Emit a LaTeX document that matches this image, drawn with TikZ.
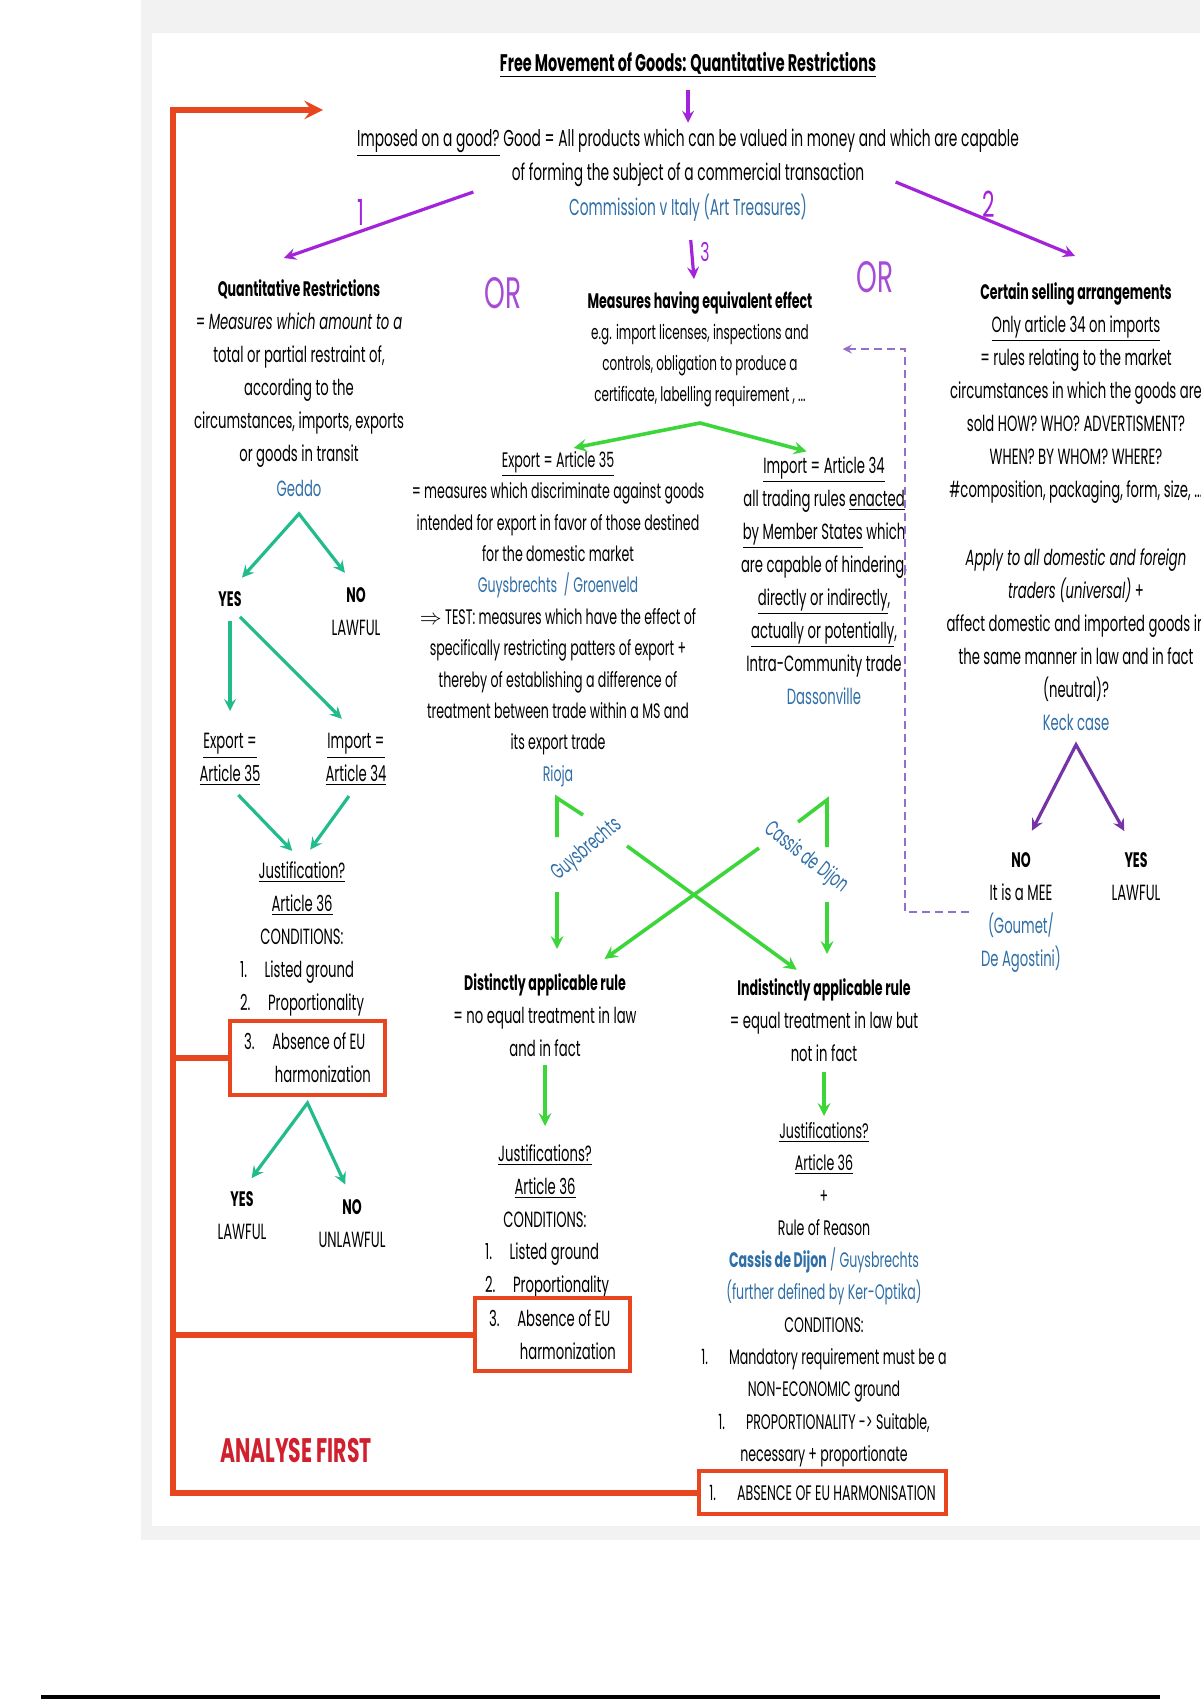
\documentclass[tikz,border=0pt]{standalone}
\usepackage{fontspec}
\setmainfont{Poppins}[FakeStretch=0.6]
\usetikzlibrary{positioning}
\definecolor{OrRed}{HTML}{E8461E}
\definecolor{ArrViolet}{HTML}{A323DB}
\definecolor{OrViolet}{HTML}{A74AD6}
\definecolor{TealArr}{HTML}{22BB8C}
\definecolor{LimeArr}{HTML}{3DD63A}
\definecolor{KeckViolet}{HTML}{7433A6}
\definecolor{DashViolet}{HTML}{9270C9}
\definecolor{CaseBlue}{HTML}{2F6FA8}
\definecolor{FirstRed}{HTML}{D0202E}
\definecolor{FrameGray}{HTML}{F2F2F2}
\newcommand\headtxt[1]{{\fontsize{10.5}{16.5}\selectfont\bfseries #1}}

\begin{document}
\begin{tikzpicture}[x=0.5pt,y=-0.5pt,>=stealth,node distance=2pt]
  \tikzstyle{txt}=[align=center,inner sep=0pt,font=\fontsize{11}{16.5}\selectfont]
  \tikzstyle{case}=[text=CaseBlue]
  \tikzstyle{redbox}=[draw=OrRed,line width=2pt,inner sep=0pt,align=left,
    font=\fontsize{11}{16.5}\selectfont]
  \tikzstyle{back}=[draw=OrRed,line width=3pt]
  \tikzstyle{topar}=[draw=ArrViolet,line width=1.6pt,->]
  \tikzstyle{tealar}=[draw=TealArr,line width=1.6pt]
  \tikzstyle{limear}=[draw=LimeArr,line width=1.8pt]
  \tikzstyle{keckar}=[draw=KeckViolet,line width=1.6pt]
  \tikzstyle{numlab}=[text=ArrViolet,inner sep=0pt,font=\fontsize{18}{18}\selectfont]
  \tikzstyle{orlab}=[text=OrViolet,inner sep=0pt,font=\fontsize{22}{22}\selectfont]

  % page and frame
  \useasboundingbox (0,0) rectangle (1200,1700);
  \fill[FrameGray] (141,0) rectangle (1200,1540);
  \fill[white] (152,33) rectangle (1200,1526);
  \draw[black,line width=2pt] (41,1697) -- (1160,1697);

  % top
  \node[txt,font=\fontsize{12}{16}\selectfont\bfseries] (title) at (688,65)
    {\underline{Free Movement of Goods: Quantitative Restrictions}};
  \node[txt,font=\fontsize{11.5}{16}\selectfont] (good1) at (688,143) {\underline{Imposed on a good?} Good = All products which can be valued in money and which are capable};
  \node[txt,font=\fontsize{11.5}{16}\selectfont] (good2) at (688,175) {of forming the subject of a commercial transaction};
  \node[txt,case,font=\fontsize{11.5}{16}\selectfont] (arttr) at (688,208) {Commission v Italy (Art Treasures)};
  \node[numlab] (n1) at (361,212) {1};
  \node[numlab] (n2) at (989,204) {2};
  \node[numlab,font=\fontsize{13}{13}\selectfont] (n3) at (705,252) {3};
  \node[orlab] (or1) at (503,293) {OR};
  \node[orlab] (or2) at (875,277) {OR};

  % quantitative restrictions
  \node[txt,anchor=north] (qr) at (299,279) {\headtxt{Quantitative Restrictions}\\
    = \textit{Measures which amount to a}\\total or partial restraint of,\\
    according to the\\circumstances, imports, exports\\or goods in transit\\[1pt]
    \textcolor{CaseBlue}{Geddo}};
  \node[txt] (yes1) at (230,599) {\headtxt{YES}};
  \node[txt,anchor=north] (no1) at (356,587) {\headtxt{NO}\\LAWFUL};
  \node[txt,anchor=north] (exp1) at (230,733) {\underline{Export =}\\\underline{Article 35}};
  \node[txt,anchor=north] (imp1) at (356,733) {\underline{Import =}\\\underline{Article 34}};
  \node[txt,anchor=north] (just1) at (302,861) {\underline{Justification?}\\\underline{Article 36}\\CONDITIONS:};
  \node[txt,align=left,anchor=north] (list1) at (302,960) {1.\hspace{.8em}Listed ground\\2.\hspace{.8em}Proportionality};
  \node[redbox,minimum width=77.5pt,minimum height=37pt] (harm1) at (307.5,1058)
    {3.\hspace{.8em}Absence of EU\\\hspace{1.4em}harmonization};
  \node[txt,anchor=north] (yes2) at (242,1191) {\headtxt{YES}\\LAWFUL};
  \node[txt,anchor=north] (no2) at (352,1199) {\headtxt{NO}\\UNLAWFUL};

  % measures having equivalent effect
  \node[txt,anchor=north,font=\fontsize{10}{15.5}\selectfont] (mee) at (700,291)
    {\headtxt{Measures having equivalent effect}\\e.g. import licenses, inspections and\\
    controls, obligation to produce a\\certificate, labelling requirement , ...};
  \node[txt,anchor=north,font=\fontsize{10.5}{15.7}\selectfont] (exp2) at (558,451)
    {\underline{Export = Article 35}\\= measures which discriminate against goods\\
    intended for export in favor of those destined\\for the domestic market\\
    \textcolor{CaseBlue}{Guysbrechts\ \ / Groenveld}\\
    $\Rightarrow$ TEST: measures which have the effect of\\
    specifically restricting patters of export +\\thereby of establishing a difference of\\
    treatment between trade within a MS and\\its export trade\\\textcolor{CaseBlue}{Rioja}};
  \node[txt,anchor=north] (imp2) at (824,456)
    {\underline{Import = Article 34}\\all trading rules \underline{enacted}\\
    \underline{by Member States} which\\are capable of hindering,\\
    \underline{directly or indirectly},\\\underline{actually or potentially},\\
    Intra-Community trade\\\textcolor{CaseBlue}{Dassonville}};
  \node[txt,case,rotate=40] (gbl) at (587,850) {Guysbrechts};
  \node[txt,case,rotate=-38] (cdl) at (806,858) {Cassis de Dijon};
  \node[txt,anchor=north] (dist) at (545,973)
    {\headtxt{Distinctly applicable rule}\\= no equal treatment in law\\and in fact};
  \node[txt,anchor=north] (indist) at (824,978)
    {\headtxt{Indistinctly applicable rule}\\= equal treatment in law but\\not in fact};
  \node[txt,anchor=north] (just2) at (545,1144) {\underline{Justifications?}\\\underline{Article 36}\\CONDITIONS:};
  \node[txt,align=left,anchor=north] (list2) at (547,1242) {1.\hspace{.8em}Listed ground\\2.\hspace{.8em}Proportionality};
  \node[redbox,minimum width=77.5pt,minimum height=36.5pt] (harm2) at (552.5,1334.5)
    {3.\hspace{.8em}Absence of EU\\\hspace{1.4em}harmonization};
  \node[txt,anchor=north,font=\fontsize{10.5}{16.15}\selectfont] (just3) at (824,1122)
    {\underline{Justifications?}\\\underline{Article 36}\\+\\Rule of Reason\\
    \textcolor{CaseBlue}{\textbf{Cassis de Dijon} / Guysbrechts}\\
    \textcolor{CaseBlue}{(further defined by Ker-Optika)}\\CONDITIONS:\\
    1.\hspace{1em}Mandatory requirement must be a\\NON-ECONOMIC ground\\
    1.\hspace{1em}PROPORTIONALITY -> Suitable,\\necessary + proportionate};
  \node[redbox,minimum width=123.5pt,minimum height=21.5pt,align=center,
    font=\fontsize{10.5}{14}\selectfont] (harm3) at (822.5,1492.5)
    {1.\hspace{1em}ABSENCE OF EU HARMONISATION};
  \node[text=FirstRed,font=\fontsize{17}{17}\selectfont\bfseries] (first) at (296,1450) {ANALYSE FIRST};

  % certain selling arrangements
  \node[txt,anchor=north] (csa) at (1076,282) {\headtxt{Certain selling arrangements}\\
    \underline{Only article 34 on imports}\\= rules relating to the market\\
    circumstances in which the goods are\\sold HOW? WHO? ADVERTISMENT?\\
    WHEN? BY WHOM? WHERE?\\\#composition, packaging, form, size, ...};
  \node[txt,anchor=north] (apply) at (1076,548) {\textit{Apply to all domestic and foreign}\\
    \textit{traders (universal)} +\\affect domestic and imported goods in\\
    the same manner in law and in fact\\(neutral)?\\\textcolor{CaseBlue}{Keck case}};
  \node[txt,anchor=north] (no3) at (1021,852) {\headtxt{NO}\\It is a MEE\\
    \textcolor{CaseBlue}{(Goumet/}\\\textcolor{CaseBlue}{De Agostini)}};
  \node[txt,anchor=north] (yes3) at (1136,852) {\headtxt{YES}\\LAWFUL};

  % purple arrows from the top
  \draw[topar,shorten <=6pt,shorten >=3pt] (title) -- (good1);
  \draw[topar] ([shift={(-38,17)}]good2.west) -- ([shift={(-15,-21)}]qr.north);
  \draw[topar] ([shift={(31,7)}]good2.east) -- ([shift={(-1,-26)}]csa.north);
  \draw[topar,shorten <=9pt,shorten >=6pt] (arttr) -- (mee);

  % teal arrows, left column
  \draw[tealar,<->,shorten <=9pt,shorten >=9pt] (yes1.north) -- ([yshift=-8.5pt]qr.south) -- (no1.north);
  \draw[tealar,->,shorten <=7pt,shorten >=11pt] (yes1.south) -- (exp1.north);
  \draw[tealar,->,shorten <=7pt,shorten >=10pt] (yes1.south) -- (imp1.north);
  \draw[tealar,->,shorten <=6pt,shorten >=7pt] (exp1.south) -- (just1.north);
  \draw[tealar,->,shorten <=6pt,shorten >=7pt] (imp1.south) -- (just1.north);
  \draw[tealar,<->,shorten <=8pt,shorten >=8pt] (yes2.north) -- ([yshift=-3pt]harm1.south) -- (no2.north);

  % green arrows, middle
  \draw[limear,<->,shorten <=8pt,shorten >=9pt] (exp2.north) -- ([yshift=-8pt]mee.south) -- (imp2.north);
  \coordinate (gh1) at (583,815);
  \coordinate (gh2) at (557,798);
  \coordinate (gh3) at (557,837);
  \coordinate (gh4) at (557,892);
  \coordinate (ch1) at (798,822);
  \coordinate (ch2) at (827,800);
  \coordinate (ch3) at (827,847);
  \coordinate (ch4) at (827,902);
  \coordinate (gx) at (627,846);
  \coordinate (cx) at (759,848);
  \draw[limear] (gh1) -- (gh2) -- (gh3);
  \draw[limear,->,shorten >=12pt] (gh4) -- (gh4 |- dist.north);
  \draw[limear] (ch1) -- (ch2) -- (ch3);
  \draw[limear,->,shorten >=12pt] (ch4) -- (ch4 |- indist.north);
  \draw[limear,->,shorten >=7pt] (gx) -- ([xshift=-8pt]indist.north);
  \draw[limear,->,shorten >=12pt] (cx) -- ([xshift=20pt]dist.north);
  \draw[limear,->,shorten <=4pt,shorten >=9pt] (dist) -- (just2);
  \draw[limear,->,shorten <=5pt,shorten >=3pt] (indist) -- (just3);

  % keck
  \draw[keckar,<->,shorten <=12pt,shorten >=12pt] (no3.north) -- ([yshift=-7pt]apply.south) -- (yes3.north);
  \draw[DashViolet,line width=1pt,dash pattern=on 4pt off 2.5pt,->,shorten <=6pt,shorten >=15pt]
    (no3.west) -- ([xshift=-1pt]no3.west -| imp2.east) |- (mee.east);

  % analyse first loop
  \coordinate (spine) at (173,110);
  \coordinate (loopend) at (323,110);
  \draw[back,->] (harm3.west) -| (spine) -- (loopend);
  \draw[back] (harm1.west) -- (harm1.west -| spine);
  \draw[back] (harm2.west) -- (harm2.west -| spine);
\end{tikzpicture}
\end{document}
